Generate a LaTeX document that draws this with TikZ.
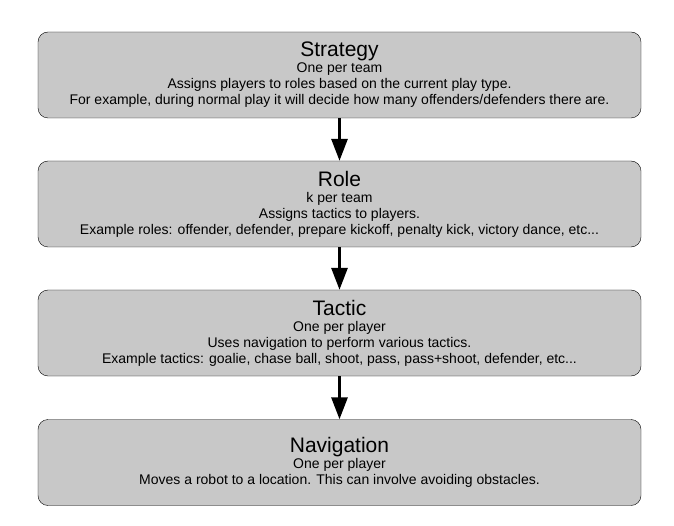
\documentclass[tikz,border=0pt]{standalone}
\usepackage{fontspec}
\setmainfont{Liberation Sans}
\usetikzlibrary{arrows.meta}
\definecolor{boxgray}{RGB}{200, 200, 200}
\newcommand{\layertitle}[1]{{\fontsize{21}{16}\selectfont #1}\\}
\begin{document}
\begin{tikzpicture}[x=1pt, y=-1pt,
    layer/.style={draw, fill=boxgray, rounded corners=10pt, minimum width=603pt,
        minimum height=86pt, align=center, inner sep=0pt,
        font=\fontsize{14}{16}\selectfont},
    flow/.style={line width=3pt, -{Triangle[width=16pt, length=22pt]}}]
            \useasboundingbox (0,0) rectangle (674,526);
            % Layers
            \node[layer] (strategy) at (339.5, 75)
                {\layertitle{Strategy}One per team\\Assigns players to roles based on the current play type.\\For example, during normal play it will decide how many offenders/defenders there are.};
            \node[layer] (role) at (339.5, 204)
                {\layertitle{Role}k per team\\Assigns tactics to players.\\Example roles: offender, defender, prepare kickoff, penalty kick, victory dance, etc...};
            \node[layer] (tactic) at (339.5, 333)
                {\layertitle{Tactic}One per player\\Uses navigation to perform various tactics.\\Example tactics: goalie, chase ball, shoot, pass, pass+shoot, defender, etc...};
            \node[layer] (navigation) at (339.5, 462.5)
                {\layertitle{Navigation}One per player\\Moves a robot to a location. This can involve avoiding obstacles.};
            % Arrows
            \draw[flow] (strategy) -- (role);
            \draw[flow] (role) -- (tactic);
            \draw[flow] (tactic) -- (navigation);
        \end{tikzpicture}
\end{document}
